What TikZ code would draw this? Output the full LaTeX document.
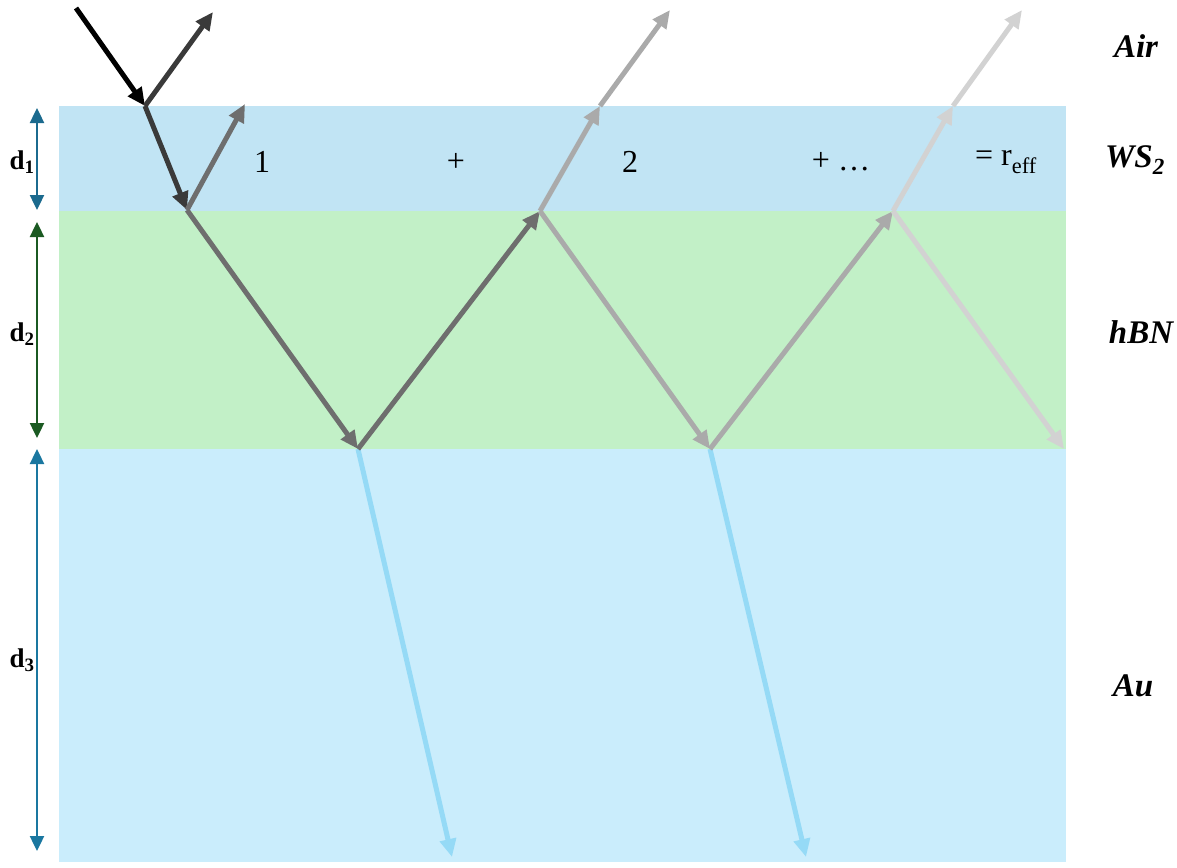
\documentclass[tikz,border=0pt]{standalone}
\usepackage{fontspec}
\setmainfont{Liberation Serif}
\usetikzlibrary{arrows.meta}
\definecolor{wsband}{HTML}{C1E4F4}
\definecolor{hbnband}{HTML}{C2F0C7}
\definecolor{auband}{HTML}{CAEDFC}
\definecolor{rayblue}{HTML}{95DAF6}
\definecolor{dimblue}{HTML}{1B6A8E}
\definecolor{dimteal}{HTML}{1A77A0}
\definecolor{dimgreen}{HTML}{1B5A22}
\definecolor{ray0}{HTML}{000000}
\definecolor{ray1}{HTML}{3A3A3A}
\definecolor{ray2}{HTML}{6E6E6E}
\definecolor{ray3}{HTML}{AAAAAA}
\definecolor{ray4}{HTML}{D2D2D2}
\tikzset{
  ray/.style={line width=5pt, -{Triangle[length=18pt,width=16pt]}},
  dimarrow/.style={line width=2.4pt, {Triangle[length=15pt,width=14pt]}-{Triangle[length=15pt,width=14pt]}},
  dimlabel/.style={font=\fontsize{27}{27}\selectfont\bfseries},
  termlabel/.style={font=\fontsize{32}{32}\selectfont},
  layerlabel/.style={font=\fontsize{33}{33}\selectfont\bfseries\itshape},
}
\begin{document}
\begin{tikzpicture}[x=1pt,y=-1pt]
\useasboundingbox (0,0) rectangle (1177,867);

% layers
\fill[wsband]  (59,106) rectangle (1066,211);
\fill[hbnband] (59,211) rectangle (1066,449);
\fill[auband]  (59,449) rectangle (1066,862);

% thickness markers
\coordinate (d1t) at (37,108);  \coordinate (d1b) at (37,210);
\coordinate (d2t) at (37,222);  \coordinate (d2b) at (37,438);
\coordinate (d3t) at (37,449);  \coordinate (d3b) at (37,851);
\draw[dimarrow, dimblue]  (d1t) -- (d1b);
\draw[dimarrow, dimgreen] (d2t) -- (d2b);
\draw[dimarrow, dimteal]  (d3t) -- (d3b);
\node[dimlabel] (l1) at (22,162) {d\textsubscript{1}};
\node[dimlabel] (l2) at (22,334) {d\textsubscript{2}};
\node[dimlabel] (l3) at (22,660) {d\textsubscript{3}};

% ray points
\coordinate (src) at (76,8);
\coordinate (a0) at (145,106);
\coordinate (r0) at (213,12);
\coordinate (b1) at (187,210);
\coordinate (t1) at (245,104);
\coordinate (c1) at (358,449);
\coordinate (g1) at (452,857);
\coordinate (b2) at (540,211);
\coordinate (a2) at (600,106);
\coordinate (r2) at (670,10);
\coordinate (c2) at (710,449);
\coordinate (g2) at (806,857);
\coordinate (b3) at (893,211);
\coordinate (a3) at (953,106);
\coordinate (r3) at (1022,10);
\coordinate (c3) at (1064,449);

% transmitted into gold
\draw[ray, rayblue] (c1) -- (g1);
\draw[ray, rayblue] (c2) -- (g2);

% first pass
\draw[ray, ray0] (src) -- (a0);
\draw[ray, ray1] (a0) -- (r0);
\draw[ray, ray1] (a0) -- (b1);
\draw[ray, ray2] (b1) -- (t1);
\draw[ray, ray2] (b1) -- (c1);
\draw[ray, ray2] (c1) -- (b2);

% second pass
\draw[ray, ray3] (b2) -- (a2);
\draw[ray, ray3] (a2) -- (r2);
\draw[ray, ray3] (b2) -- (c2);
\draw[ray, ray3] (c2) -- (b3);

% third pass
\draw[ray, ray4] (b3) -- (a3);
\draw[ray, ray4] (a3) -- (r3);
\draw[ray, ray4] (b3) -- (c3);

% series terms
\node[termlabel] (s1) at (262,162) {1};
\node[termlabel] (p1) at (456,162) {+};
\node[termlabel] (s2) at (630,162) {2};
\node[termlabel] (p2) at (841,162) {+ …};
\node[termlabel] (sr) at (1006,162) {= r\textsubscript{eff}};

% layer names
\node[layerlabel] (air) at (1136,46) {Air};
\node[layerlabel] (ws)  at (1135,160) {WS\textsubscript{2}};
\node[layerlabel] (hbn) at (1141,332) {hBN};
\node[layerlabel] (au)  at (1133,686) {Au};
\end{tikzpicture}
\end{document}
